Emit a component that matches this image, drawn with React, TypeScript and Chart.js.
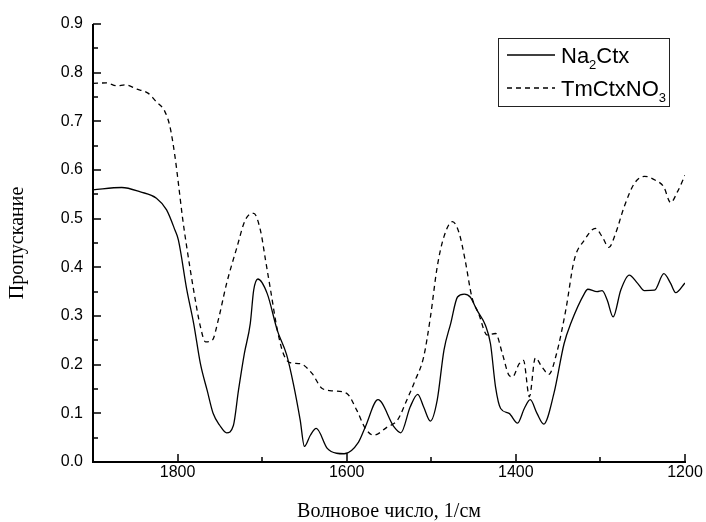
import React, { useEffect, useRef } from "react";
import { Chart, registerables } from "chart.js";

Chart.register(...registerables);

// Na2Ctx (solid line)
const naWavenumbers = [1900, 1866, 1844, 1825, 1813, 1803, 1799, 1789, 1781, 1773, 1765, 1758, 1750, 1742, 1734, 1728, 1721, 1714, 1710, 1705, 1694, 1682, 1671, 1663, 1655, 1650, 1643, 1636, 1623, 1612, 1603, 1586, 1578, 1563, 1544, 1536, 1525, 1516, 1509, 1501, 1493, 1485, 1477, 1469, 1461, 1454, 1446, 1436, 1430, 1424, 1418, 1408, 1398, 1390, 1383, 1375, 1367, 1355, 1343, 1335, 1319, 1315, 1304, 1298, 1292, 1285, 1276, 1266, 1256, 1248, 1236, 1225, 1217, 1211, 1200];
const naValues = [0.559, 0.564, 0.555, 0.542, 0.518, 0.476, 0.456, 0.353, 0.285, 0.202, 0.147, 0.100, 0.075, 0.060, 0.075, 0.147, 0.223, 0.285, 0.353, 0.376, 0.346, 0.27, 0.22, 0.16, 0.086, 0.032, 0.055, 0.069, 0.028, 0.018, 0.017, 0.041, 0.072, 0.128, 0.072, 0.060, 0.113, 0.139, 0.113, 0.084, 0.127, 0.230, 0.285, 0.339, 0.345, 0.339, 0.312, 0.281, 0.243, 0.154, 0.110, 0.100, 0.080, 0.110, 0.128, 0.100, 0.078, 0.141, 0.243, 0.285, 0.346, 0.355, 0.350, 0.352, 0.333, 0.298, 0.353, 0.384, 0.367, 0.352, 0.353, 0.387, 0.367, 0.348, 0.368];

// TmCtxNO3 (dashed line)
const tmWavenumbers = [1900, 1884, 1872, 1862, 1848, 1835, 1825, 1815, 1809, 1803, 1799, 1794, 1789, 1781, 1773, 1767, 1759, 1752, 1742, 1730, 1720, 1710, 1702, 1696, 1690, 1682, 1675, 1667, 1655, 1641, 1629, 1615, 1600, 1588, 1578, 1568, 1552, 1540, 1529, 1519, 1509, 1501, 1493, 1485, 1475, 1467, 1460, 1452, 1444, 1434, 1424, 1416, 1408, 1404, 1396, 1391, 1384, 1377, 1369, 1361, 1352, 1341, 1331, 1319, 1306, 1298, 1290, 1282, 1272, 1260, 1248, 1235, 1225, 1217, 1209, 1200];
const tmValues = [0.778, 0.779, 0.773, 0.775, 0.766, 0.758, 0.740, 0.720, 0.689, 0.627, 0.572, 0.500, 0.440, 0.353, 0.278, 0.247, 0.250, 0.291, 0.367, 0.440, 0.497, 0.511, 0.476, 0.415, 0.353, 0.271, 0.223, 0.204, 0.202, 0.182, 0.151, 0.146, 0.141, 0.106, 0.069, 0.055, 0.072, 0.086, 0.127, 0.168, 0.216, 0.298, 0.401, 0.463, 0.494, 0.470, 0.415, 0.339, 0.305, 0.261, 0.264, 0.223, 0.178, 0.175, 0.202, 0.209, 0.134, 0.214, 0.195, 0.180, 0.222, 0.312, 0.415, 0.456, 0.480, 0.463, 0.441, 0.470, 0.524, 0.572, 0.587, 0.579, 0.565, 0.533, 0.555, 0.589];

const xMajorTicks = [1800, 1600, 1400, 1200];
const xMinorTicks = [1900, 1700, 1500, 1300];
const yMajorTicks = [0, 0.1, 0.2, 0.3, 0.4, 0.5, 0.6, 0.7, 0.8, 0.9];
const yMinorTicks = [0.05, 0.15, 0.25, 0.35, 0.45, 0.55, 0.65, 0.75, 0.85];

const seriesNames = ["Na", "TmCtxNO"];
const seriesSubs = ["2", "3"];
const seriesTails = ["Ctx", ""];

const xTitle = "Волновое число, 1/см";
const yTitle = "Пропускание";

const axesLegendPlugin = {
  id: "axesLegend",
  afterDatasetsDraw(chart: any) {
    const { ctx, chartArea, scales } = chart;
    const { left, right, top, bottom } = chartArea;
    const xs = scales.x;
    const ys = scales.y;
    ctx.save();
    ctx.strokeStyle = "#000";
    ctx.lineCap = "butt";
    // axes lines
    ctx.lineWidth = 2;
    ctx.beginPath();
    ctx.moveTo(left, top);
    ctx.lineTo(left, bottom);
    ctx.lineTo(right + 1, bottom);
    ctx.stroke();
    // ticks (inward)
    ctx.lineWidth = 1.5;
    ctx.beginPath();
    xMajorTicks.forEach((v) => {
      const px = Math.round(xs.getPixelForValue(v));
      ctx.moveTo(px, bottom);
      ctx.lineTo(px, bottom - 8);
    });
    xMinorTicks.forEach((v) => {
      const px = Math.round(xs.getPixelForValue(v));
      ctx.moveTo(px, bottom);
      ctx.lineTo(px, bottom - 5);
    });
    yMajorTicks.forEach((v) => {
      const py = Math.round(ys.getPixelForValue(v));
      ctx.moveTo(left, py);
      ctx.lineTo(left + 8, py);
    });
    yMinorTicks.forEach((v) => {
      const py = Math.round(ys.getPixelForValue(v));
      ctx.moveTo(left, py);
      ctx.lineTo(left + 5, py);
    });
    ctx.stroke();

    // legend
    const bx = right - 187;
    const by = top + 14;
    const bw = 171;
    const bh = 68;
    ctx.fillStyle = "#fff";
    ctx.fillRect(bx, by, bw, bh);
    ctx.lineWidth = 1;
    ctx.strokeStyle = "#222";
    ctx.strokeRect(bx + 0.5, by + 0.5, bw, bh);

    const rowsLineY = [by + 17, by + 50];
    const rowsBase = [by + 25, by + 58];
    const dashes = [[], [5, 4]];
    for (let i = 0; i < 2; i++) {
      ctx.strokeStyle = "#000";
      ctx.lineWidth = 1.3;
      ctx.setLineDash(dashes[i]);
      ctx.beginPath();
      ctx.moveTo(bx + 9, rowsLineY[i]);
      ctx.lineTo(bx + 57, rowsLineY[i]);
      ctx.stroke();
      ctx.setLineDash([]);
      ctx.fillStyle = "#000";
      ctx.textBaseline = "alphabetic";
      ctx.textAlign = "left";
      let tx = bx + 63;
      ctx.font = "22px 'Liberation Sans', Arial, sans-serif";
      ctx.fillText(seriesNames[i], tx, rowsBase[i]);
      tx += ctx.measureText(seriesNames[i]).width;
      ctx.font = "13px 'Liberation Sans', Arial, sans-serif";
      ctx.fillText(seriesSubs[i], tx, rowsBase[i] + 6);
      tx += ctx.measureText(seriesSubs[i]).width;
      if (seriesTails[i]) {
        ctx.font = "22px 'Liberation Sans', Arial, sans-serif";
        ctx.fillText(seriesTails[i], tx, rowsBase[i]);
      }
    }
    ctx.restore();
  },
};

export default function App() {
  const canvasRef = useRef<HTMLCanvasElement | null>(null);

  useEffect(() => {
    if (!canvasRef.current) return;
    const naData = naWavenumbers.map((x, i) => ({ x, y: naValues[i] }));
    const tmData = tmWavenumbers.map((x, i) => ({ x, y: tmValues[i] }));
    const chart = new Chart(canvasRef.current, {
      type: "line",
      data: {
        datasets: [
          {
            label: "Na2Ctx",
            data: naData,
            borderColor: "#000",
            borderWidth: 1.3,
            pointRadius: 0,
            fill: false,
            cubicInterpolationMode: "monotone",
          },
          {
            label: "TmCtxNO3",
            data: tmData,
            borderColor: "#000",
            borderWidth: 1.3,
            borderDash: [5, 4],
            pointRadius: 0,
            fill: false,
            cubicInterpolationMode: "monotone",
          },
        ],
      },
      options: {
        animation: false,
        responsive: false,
        devicePixelRatio: 1,
        layout: { padding: { left: 0, right: 21, top: 24, bottom: 0 } },
        plugins: {
          legend: { display: false },
          tooltip: { enabled: false },
        },
        scales: {
          x: {
            type: "linear",
            reverse: true,
            min: 1200,
            max: 1900,
            grid: { display: false, drawTicks: false },
            border: { display: false },
            ticks: {
              stepSize: 100,
              autoSkip: false,
              maxRotation: 0,
              padding: 1,
              color: "#000",
              font: { family: "'Liberation Sans', Arial, sans-serif", size: 16 },
              callback: (v: any) => (xMajorTicks.includes(Number(v)) ? String(v) : ""),
            },
            title: {
              display: true,
              text: xTitle,
              color: "#000",
              font: { family: "'Liberation Serif', 'Times New Roman', serif", size: 20, lineHeight: 1 },
              padding: { top: 0, bottom: 0 },
            },
            afterFit: (scale: any) => {
              scale.height = 60;
            },
          },
          y: {
            type: "linear",
            min: 0,
            max: 0.9,
            grid: { display: false, drawTicks: false },
            border: { display: false },
            ticks: {
              stepSize: 0.1,
              padding: 10,
              color: "#000",
              font: { family: "'Liberation Sans', Arial, sans-serif", size: 16 },
              callback: (v: any) => Number(v).toFixed(1),
            },
            title: {
              display: true,
              text: yTitle,
              color: "#000",
              font: { family: "'Liberation Serif', 'Times New Roman', serif", size: 20, lineHeight: 1 },
              padding: { top: 8, bottom: 0 },
            },
            afterFit: (scale: any) => {
              scale.width = 93;
            },
          },
        },
      },
      plugins: [axesLegendPlugin],
    });
    return () => chart.destroy();
  }, []);

  return (
    <div style={{ position: "absolute", left: 0, top: 0, width: 706, height: 522, background: "#fff" }}>
      <canvas ref={canvasRef} width={706} height={522} style={{ display: "block" }} />
    </div>
  );
}
